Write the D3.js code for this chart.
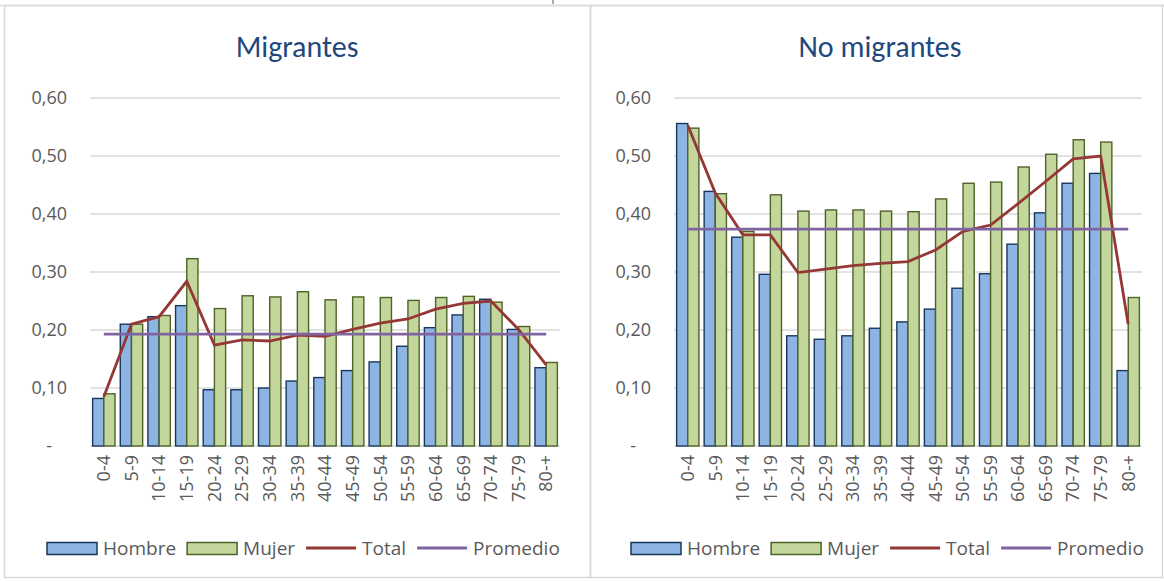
<!DOCTYPE html>
<meta charset="utf-8">
<style>
body { margin: 0; background: #fff; }
svg { font-family: Carlito, Calibri, Lato, "Open Sans", sans-serif; }
.grid line { stroke: #d9d9d9; stroke-width: 1.3px; }
.tick-label { fill: #595959; font-size: 18px; font-family: "Open Sans", sans-serif; }
.legend text { fill: #595959; font-size: 19px; font-family: "Open Sans", sans-serif; }
.title { fill: #1f497d; font-size: 30px; }
</style>
<svg width="1164" height="581"></svg>
<script src="https://d3js.org/d3.v7.min.js"></script>
<script>

var categories = ["0-4","5-9","10-14","15-19","20-24","25-29","30-34","35-39","40-44",
                  "45-49","50-54","55-59","60-64","65-69","70-74","75-79","80-+"];

var migHombre = [0.082,0.210,0.223,0.242,0.097,0.097,0.100,0.112,0.118,0.130,0.145,0.172,0.204,0.226,0.253,0.201,0.135];
var migMujer  = [0.090,0.210,0.225,0.323,0.237,0.259,0.257,0.266,0.252,0.257,0.256,0.251,0.256,0.258,0.248,0.206,0.144];
var migTotal  = [0.085,0.210,0.223,0.284,0.174,0.183,0.181,0.191,0.189,0.201,0.212,0.219,0.236,0.246,0.250,0.201,0.140];
var migPromedio = 0.193;

var noHombre = [0.556,0.439,0.360,0.296,0.190,0.184,0.190,0.203,0.214,0.236,0.272,0.297,0.348,0.402,0.453,0.470,0.130];
var noMujer  = [0.548,0.435,0.370,0.433,0.405,0.407,0.407,0.405,0.404,0.426,0.453,0.455,0.481,0.503,0.528,0.524,0.256];
var noTotal  = [0.553,0.436,0.364,0.364,0.299,0.305,0.311,0.315,0.318,0.338,0.370,0.381,0.418,0.456,0.495,0.500,0.210];
var noPromedio = 0.374;

var yTicks = [0, 0.1, 0.2, 0.3, 0.4, 0.5, 0.6];
var legendNames = ["Hombre", "Mujer", "Total", "Promedio"];

var svg = d3.select("svg");

// frames
svg.append("line").attr("x1", 0).attr("x2", 1164).attr("y1", 5.5).attr("y2", 5.5)
    .attr("stroke", "#d9d9d9").attr("stroke-width", 1.5);
svg.append("line").attr("x1", 553).attr("x2", 553).attr("y1", 0).attr("y2", 4)
    .attr("stroke", "#595959").attr("stroke-width", 1);
[[4.5, 590.5], [590.5, 1162.5]].forEach(function(p) {
  svg.append("rect").attr("x", p[0]).attr("y", 5.5).attr("width", p[1] - p[0]).attr("height", 572)
      .attr("fill", "none").attr("stroke", "#d9d9d9").attr("stroke-width", 1.5);
});

function drawPanel(o) {
  var g = svg.append("g");
  var x = d3.scaleBand().domain(categories).range([o.x0, o.x1]).paddingInner(0.19).paddingOuter(0.095);
  var y = d3.scaleLinear().domain([0, 0.6]).range([446, 98]);
  var xs = d3.scaleBand().domain(["h", "m"]).range([0, x.bandwidth()]);
  var cx = function(c) { return x(c) + x.bandwidth() / 2; };

  g.append("text").attr("class", "title").attr("x", o.tx).attr("y", 57)
      .attr("text-anchor", "middle").text(o.title);

  g.append("g").attr("class", "grid").selectAll("line").data(yTicks).enter().append("line")
      .attr("x1", o.x0).attr("x2", o.x1)
      .attr("y1", function(d) { return y(d); }).attr("y2", function(d) { return y(d); });

  g.append("g").selectAll("text").data(yTicks).enter().append("text")
      .attr("class", "tick-label")
      .attr("x", function(d) { return d === 0 ? o.x0 - 38 : o.x0 - 23; })
      .attr("y", function(d) { return y(d); })
      .attr("dy", "0.35em").attr("text-anchor", "end")
      .text(function(d) { return d === 0 ? "-" : d3.format(".2f")(d).replace(".", ","); });

  g.append("g").selectAll("text").data(categories).enter().append("text")
      .attr("class", "tick-label")
      .attr("transform", function(d) { return "translate(" + cx(d) + ",455) rotate(-90)"; })
      .attr("dy", "0.35em").attr("text-anchor", "end")
      .text(function(d) { return d; });

  g.append("g").selectAll("rect").data(o.hombre).enter().append("rect")
      .attr("x", function(d, i) { return x(categories[i]) + xs("h"); })
      .attr("y", function(d) { return y(d); })
      .attr("width", xs.bandwidth())
      .attr("height", function(d) { return y(0) - y(d); })
      .attr("fill", "#8eb4e3").attr("stroke", "#17375e").attr("stroke-width", 1.4);

  g.append("g").selectAll("rect").data(o.mujer).enter().append("rect")
      .attr("x", function(d, i) { return x(categories[i]) + xs("m"); })
      .attr("y", function(d) { return y(d); })
      .attr("width", xs.bandwidth())
      .attr("height", function(d) { return y(0) - y(d); })
      .attr("fill", "#c3d69b").attr("stroke", "#4f6228").attr("stroke-width", 1.4);

  var line = d3.line().x(function(d, i) { return cx(categories[i]); }).y(function(d) { return y(d); });
  g.append("path").datum(o.total).attr("d", line)
      .attr("fill", "none").attr("stroke", "#953735").attr("stroke-width", 2.8);
  g.append("path").datum(categories.map(function() { return o.promedio; })).attr("d", line)
      .attr("fill", "none").attr("stroke", "#8064a2").attr("stroke-width", 2.8);

  // legend
  var lg = g.append("g").attr("class", "legend");
  var lx = o.lx;
  legendNames.forEach(function(name, i) {
    if (i < 2) {
      lg.append("rect").attr("x", lx).attr("y", 542.5).attr("width", 50).attr("height", 12)
          .attr("fill", i === 0 ? "#8eb4e3" : "#c3d69b")
          .attr("stroke", i === 0 ? "#17375e" : "#4f6228").attr("stroke-width", 1.5);
    } else {
      lg.append("line").attr("x1", lx).attr("x2", lx + 50).attr("y1", 548).attr("y2", 548)
          .attr("stroke", i === 2 ? "#953735" : "#8064a2").attr("stroke-width", 2.8);
    }
    var t = lg.append("text").attr("x", lx + 56).attr("y", 548).attr("dy", "0.35em").text(name);
    lx += 56 + t.node().getComputedTextLength() + 11;
  });
}

drawPanel({ title: "Migrantes", tx: 297, x0: 90, x1: 560, lx: 47,
            hombre: migHombre, mujer: migMujer, total: migTotal, promedio: migPromedio });
drawPanel({ title: "No migrantes", tx: 880, x0: 674, x1: 1142, lx: 631,
            hombre: noHombre, mujer: noMujer, total: noTotal, promedio: noPromedio });

</script>
